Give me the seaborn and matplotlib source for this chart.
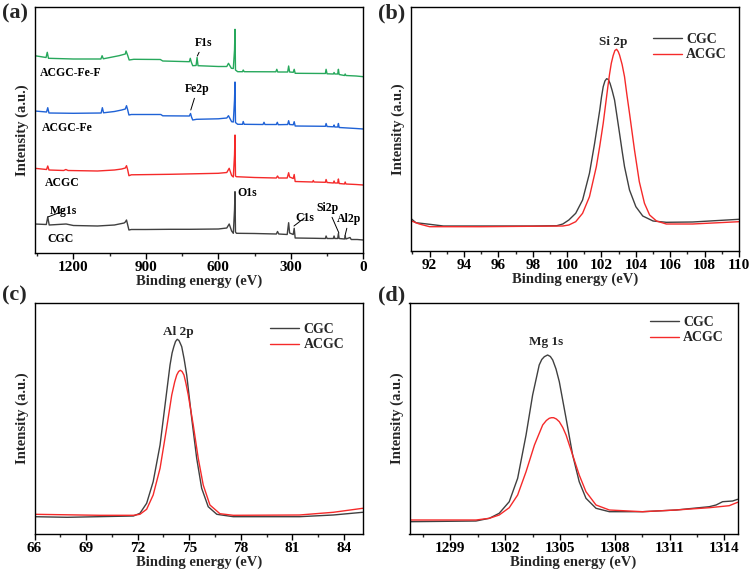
import matplotlib.pyplot as plt
import numpy as np
import pandas as pd
import seaborn as sns
from matplotlib.ticker import MultipleLocator, AutoMinorLocator

# ---- (a) survey spectra (a.u., relative to each trace's end point)
survey_e = {
    "CGC": [1360, 1312, 1306, 1300, 1230, 1200, 1100, 1030, 1000, 990, 985, 980, 975, 970, 960,
            900, 800, 717, 600, 565, 555, 545, 538, 533, 531, 529, 525, 450, 360, 355, 350,
            315, 309, 305, 290, 286, 282, 200, 157, 154, 150, 124, 121, 118, 106, 103, 100,
            78, 75, 72, 55, 50, 25, 0],
    "ACGC": [1360, 1311, 1306, 1301, 1240, 1231, 1222, 1100, 1030, 1000, 985, 980, 975, 970, 960,
             800, 700, 600, 565, 555, 545, 538, 533, 531, 529, 525, 450, 360, 355, 350, 315,
             309, 305, 290, 286, 282, 210, 207, 204, 157, 154, 150, 124, 121, 118, 106, 103,
             100, 78, 75, 72, 30, 0],
    "ACGC-Fe": [1360, 1311, 1306, 1301, 1200, 1085, 1080, 1075, 1030, 1000, 985, 980, 975, 970,
                960, 838, 830, 720, 715, 711, 706, 690, 600, 565, 558, 545, 538, 533, 531, 529,
                520, 500, 497, 493, 415, 411, 407, 360, 356, 352, 313, 309, 305, 290, 286, 282,
                157, 154, 150, 124, 121, 118, 106, 103, 100, 30, 0],
    "ACGC-Fe-F": [1360, 1313, 1308, 1303, 1200, 1086, 1081, 1076, 1011, 985, 982, 975, 969, 950,
                  840, 830, 720, 716, 712, 706, 692, 688, 684, 600, 565, 558, 546, 538, 533, 531,
                  529, 520, 500, 497, 493, 362, 358, 354, 313, 309, 305, 290, 286, 282, 157, 154,
                  150, 124, 121, 118, 106, 103, 100, 78, 75, 72, 30, 0],
}
survey_i = {
    "CGC": [16, 15.5, 23, 15, 16, 14.5, 14, 15, 16.5, 17, 18, 20, 15, 10, 10.5,
            10.5, 10.7, 10.7, 11, 12, 16, 9, 6.7, 30, 48.3, 8, 6.7, 6.5, 6, 8.5, 6,
            5.5, 17.3, 7, 5.5, 11.7, 2, 1.7, 1.5, 4, 1.5, 1.5, 4, 1.5, 1.5, 6.5, 1.5,
            1, 4, 1, 2.5, 0.5, 0.5, 0],
    "ACGC": [16.7, 15.5, 19, 15, 14.5, 15.5, 14.5, 14, 15, 16, 17, 19.3, 15, 9.3, 10.2,
             10.7, 11.2, 11.7, 12.5, 16.7, 9.5, 8, 30, 50, 9, 8.3, 7.5, 7, 9, 7, 7,
             12.3, 8, 6.5, 10.5, 3.5, 3, 4.5, 3, 2.7, 5.5, 2.5, 2, 4, 2, 2, 6,
             1.5, 1, 3, 1, 0.5, 0],
    "ACGC-Fe": [18, 17, 21.3, 16, 15.7, 16, 21.3, 16.2, 17.5, 19, 20, 23.3, 19, 14,
                14.5, 14.5, 13.2, 13, 15.5, 12, 9, 9.7, 10.2, 11, 13.3, 7.3, 7, 29, 47, 6.5,
                4.7, 4.7, 7.5, 4.7, 4.5, 6.7, 4.5, 4.5, 6.7, 4.3, 4.5, 8.3, 4.5, 4.2, 7.3, 3,
                2.7, 5.5, 2.5, 2.2, 4, 2, 2, 5.5, 1.5, 0.5, 0],
    "ACGC-Fe-F": [21, 19.2, 24.4, 18.4, 17.7, 17.7, 21, 17.9, 21, 22.7, 25.7, 21.2, 16.7, 17.4,
                  17.2, 15.7, 15, 18.4, 14.7, 11, 11.2, 19.2, 11, 10.2, 10.2, 13.4, 8.4, 8.2, 26.7, 47.4,
                  6.7, 5, 5, 6.7, 5, 4.9, 7.4, 4.7, 4.7, 10.7, 4.7, 4.4, 7.4, 3.4, 3.2, 7.4,
                  2.9, 2.7, 4.2, 2.7, 2.7, 7.4, 2.2, 1.2, 2.7, 1.2, 0.7, 0],
}
survey_names = ["CGC", "ACGC", "ACGC-Fe", "ACGC-Fe-F"]

# ---- (b) Si 2p
si_e_cgc = [90.9, 91.2, 92.0, 92.8, 95, 98, 99.4, 99.75, 100.1, 100.5, 100.9, 101.3, 101.6, 101.9,
            102.0, 102.1, 102.2, 102.3, 102.4, 102.5, 102.62, 102.76, 102.9, 103.05, 103.2, 103.34,
            103.63, 104.0, 104.4, 105.0, 105.77, 107.3, 110]
si_i_cgc = [32.7, 28.3, 26.7, 25, 25, 25, 25.3, 27, 31, 37.7, 51, 77.7, 107.7, 141,
            154, 164.3, 170, 172.3, 171.5, 167.5, 160.5, 151, 135, 117.7, 100, 84.3,
            61, 44.3, 35, 30, 28.7, 29, 31.7]
si_e_acgc = [90.9, 91.4, 92.0, 95, 99.75, 100.1, 100.5, 100.9, 101.3, 101.7, 101.9, 102.1, 102.25,
             102.37, 102.47, 102.57, 102.68, 102.78, 102.88, 102.97, 103.05, 103.2, 103.34, 103.48,
             103.63, 103.92, 104.2, 104.5, 104.8, 105.2, 105.77, 107.3, 110]
si_i_acgc = [30.3, 27, 24.3, 24.3, 25, 26, 29.3, 37.7, 54.3, 84.3, 105, 127.7, 148,
             164.3, 177, 187.7, 195.5, 200.5, 201.7, 199.5, 196, 186.5, 174.3, 156,
             137.7, 101, 69.3, 47.7, 36, 30, 27, 27, 29.3]

# ---- (c) Al 2p
al_e_cgc = [66, 67.9, 71.75, 72.13, 72.52, 72.9, 73.3, 73.59, 73.88, 74.0, 74.1, 74.2, 74.3, 74.4,
            74.48, 74.56, 74.7, 74.85, 75.14, 75.43, 75.72, 76.1, 76.6, 77.56, 81.4, 83.37, 85.08]
al_i_cgc = [17.3, 16.7, 18, 20.7, 30.7, 52.3, 89, 129, 169, 181, 187.3, 192.5, 194.7, 193.5,
            190.5, 187.3, 175, 159, 115.7, 75.7, 45.7, 27.3, 19.7, 17.3, 17.3, 19, 21.7]
al_e_acgc = [66, 69.8, 71.75, 72.13, 72.52, 72.9, 73.3, 73.68, 73.98, 74.15, 74.27, 74.38, 74.48,
             74.58, 74.69, 74.8, 74.94, 75.23, 75.52, 75.81, 76.2, 76.78, 77.56, 81.4, 83.37, 85.08]
al_i_acgc = [19.7, 18.7, 18.7, 19.7, 24.7, 39, 65.7, 105.7, 139, 152, 159, 162.5, 163.7,
             162.5, 159, 151, 139, 109, 75.7, 49, 29, 20.3, 18.7, 19, 21.7, 25.7]

# ---- (d) Mg 1s
mg_e_cgc = [1296.79, 1300.4, 1301.13, 1301.67, 1302.22, 1302.68, 1303.14, 1303.5, 1303.86,
            1304.0, 1304.14, 1304.32, 1304.47, 1304.6, 1304.78, 1304.96, 1305.33, 1305.69,
            1306.05, 1306.42, 1306.97, 1307.7, 1309.52, 1311.35, 1313.17, 1313.54, 1313.9,
            1314.45, 1314.72]
mg_i_cgc = [12.3, 13, 15.7, 20.7, 32.3, 55.7, 99, 139, 169, 174.5, 177.3, 179, 177.5, 174,
            165, 152.3, 115.7, 79, 52.3, 35.7, 25.7, 22.3, 22.3, 24, 27.3, 29, 32.3, 33, 34.7]
mg_e_acgc = [1296.79, 1300.4, 1301.13, 1301.67, 1302.22, 1302.68, 1303.14, 1303.6, 1304.05,
             1304.25, 1304.41, 1304.53, 1304.65, 1304.8, 1304.96, 1305.15, 1305.33, 1305.69,
             1306.05, 1306.42, 1306.97, 1307.7, 1309.52, 1311.35, 1313.17, 1314.26, 1314.72]
mg_i_acgc = [14, 14, 15.7, 19, 26.3, 39, 62.3, 89, 109, 113.5, 115.7, 116.3, 116.3, 115, 112.3,
             106.5, 99, 79, 59, 42.3, 29, 24, 22.3, 24, 26.3, 28.3, 31.7]

# ---- styling
colors = {"CGC": "#404040", "ACGC": "#f52a2a", "ACGC-Fe": "#1f62d6", "ACGC-Fe-F": "#27a85c"}
stack = {"CGC": 13, "ACGC": 68, "ACGC-Fe": 124, "ACGC-Fe-F": 176.3}

sns.set_theme(style="white")
plt.rcParams["font.family"] = ["Liberation Serif", "DejaVu Serif"]
plt.rcParams["font.weight"] = "bold"
plt.rcParams["axes.labelweight"] = "bold"
plt.rcParams["axes.linewidth"] = 1.0
plt.rcParams["axes.edgecolor"] = "black"

W, H = 752, 575
fig = plt.figure(figsize=(W / 100, H / 100), dpi=100)


def add_ax(x0, y0, w, h):
    return fig.add_axes([x0 / W, 1 - (y0 + h) / H, w / W, h / H])


ax_a = add_ax(34.7, 7, 328.6, 246)
ax_b = add_ax(410.7, 7, 328.3, 244)
ax_c = add_ax(34.5, 303, 328.5, 231)
ax_d = add_ax(409.5, 303, 328.1, 231)


def style_ax(ax, major):
    ax.set_yticks([])
    ax.xaxis.set_major_locator(MultipleLocator(major))
    ax.xaxis.set_minor_locator(AutoMinorLocator(2))
    ax.tick_params(axis="x", which="major", bottom=True, direction="out", length=4,
                   width=1, pad=2, labelsize=11, colors="black")
    ax.tick_params(axis="x", which="minor", bottom=True, direction="out", length=2.5, width=1)
    ax.set_xlabel("Binding energy (eV)", fontsize=10.5, labelpad=0)
    ax.set_ylabel("Intensity (a.u.)", fontsize=10.5, labelpad=4)
    for s in ax.spines.values():
        s.set_color("black")


# (a)
for name in survey_names:
    df = pd.DataFrame({"e": survey_e[name], "i": np.array(survey_i[name]) + stack[name]})
    sns.lineplot(data=df, x="e", y="i", ax=ax_a, color=colors[name], lw=1.0,
                 estimator=None, sort=False)
ax_a.set_xlim(1360, 0)
ax_a.set_ylim(0, 246)
style_ax(ax_a, 300)

tkw = dict(fontsize=8.5, fontweight="bold", color="black")
ax_a.text(1338, 180, "ACGC-Fe-F", ha="left", va="center", **tkw)
ax_a.text(1329, 125, "ACGC-Fe", ha="left", va="center", **tkw)
ax_a.text(1317, 70, "ACGC", ha="left", va="center", **tkw)
ax_a.text(1309, 14, "CGC", ha="left", va="center", **tkw)
ax_a.text(522, 60, "O1s", ha="left", va="center", **tkw)
akw = dict(arrowprops=dict(arrowstyle="-", lw=0.7, color="black", shrinkA=0, shrinkB=0),
           ha="left", va="center", **tkw)
ax_a.annotate("Mg1s", xy=(1306, 36), xytext=(1296, 42), **akw)
ax_a.annotate("C1s", xy=(287, 27), xytext=(283, 35), **akw)
ax_a.annotate("Si2p", xy=(101, 20), xytext=(192, 45), **akw)
ax_a.annotate("Al2p", xy=(76, 17), xytext=(109, 34), **akw)
ax_a.annotate("Fe2p", xy=(714, 143), xytext=(738, 164), **akw)
ax_a.annotate("F1s", xy=(687, 197), xytext=(697, 210), **akw)

# (b)-(d)
core = [
    (ax_b, si_e_cgc, si_i_cgc, si_e_acgc, si_i_acgc, (90.9, 110), 244, 2,
     "Si 2p", (102.68, 209.3), (0.738, 0.895)),
    (ax_c, al_e_cgc, al_i_cgc, al_e_acgc, al_i_acgc, (66, 85.1), 231, 3,
     "Al 2p", (74.38, 202.3), (0.717, 0.915)),
    (ax_d, mg_e_cgc, mg_i_cgc, mg_e_acgc, mg_i_acgc, (1296.76, 1314.72), 231, 3,
     "Mg 1s", (1304.26, 191.7), (0.733, 0.945)),
]
for ax, e1, i1, e2, i2, xl, yt, major, lab, lpos, legpos in core:
    sns.lineplot(x=e1, y=i1, ax=ax, color=colors["CGC"], lw=1.0, label="CGC",
                 estimator=None, sort=False)
    sns.lineplot(x=e2, y=i2, ax=ax, color=colors["ACGC"], lw=1.0, label="ACGC",
                 estimator=None, sort=False)
    ax.set_xlim(*xl)
    ax.set_ylim(0, yt)
    style_ax(ax, major)
    ax.text(lpos[0], lpos[1], lab, ha="center", va="center", fontsize=9.5,
            fontweight="bold")
    ax.legend(loc="upper left", bbox_to_anchor=legpos, frameon=False, fontsize=10,
              handlelength=2.1, handletextpad=0.3, labelspacing=0.2, borderpad=0,
              borderaxespad=0)

for lab, x, y in [("(a)", 2, 13), ("(b)", 378, 13), ("(c)", 2, 295), ("(d)", 378, 295)]:
    fig.text(x / W, 1 - y / H, lab, fontsize=16, fontweight="bold", ha="left", va="center")

fig.savefig("out.png", dpi=100)
